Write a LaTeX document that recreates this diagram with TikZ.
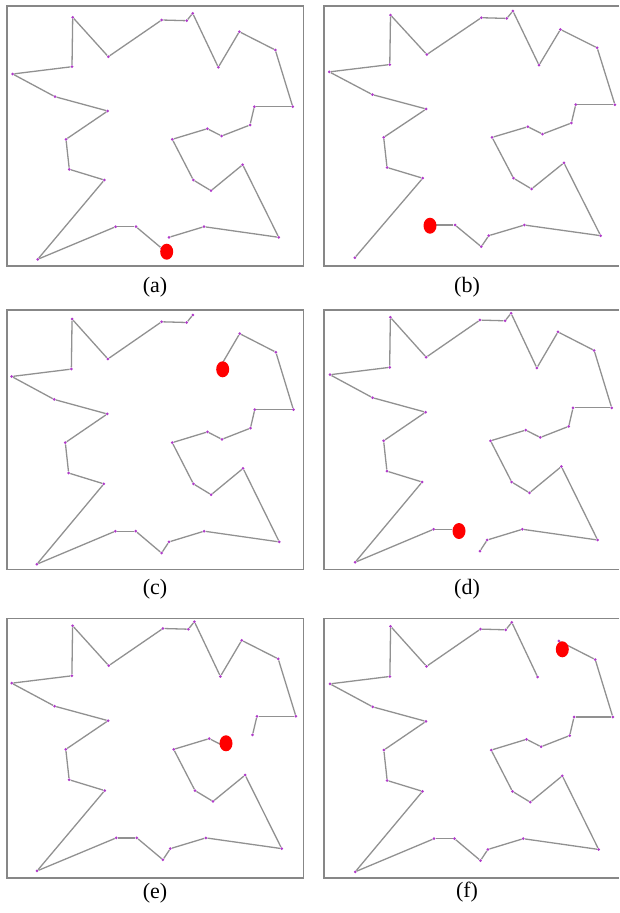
\documentclass[tikz,border=0pt]{standalone}
\usepackage{fontspec}
\setmainfont{Liberation Serif}
\usepackage{tikz}
\usetikzlibrary{shapes.geometric}
\definecolor{tourgray}  {RGB}{145,145,145}
\definecolor{framegray} {RGB}{135,135,135}
\definecolor{cityviolet}{RGB}{175,60,200}
\definecolor{agentred}  {RGB}{255,0,0}
\tikzset{
  city/.style      ={circle, fill=cityviolet, inner sep=0pt, minimum size=3pt},
  agent/.style     ={ellipse, fill=agentred, inner sep=0pt,
                     minimum width=13pt, minimum height=16pt},
  tour/.style      ={draw=tourgray, line width=1.3pt},
  panelframe/.style={draw=framegray, line width=1.6pt},
  panellabel/.style={font=\fontsize{22}{22}\selectfont, inner sep=0pt},
}
% city positions, relative to the leftmost city (x) and the top city (y)
\newcommand{\tourpts}{60.0/4.0, 95.6/43.4, 149.0/6.7, 174.0/7.4, 180.0/0.0,
  205.6/54.0, 226.6/18.4, 262.6/36.7, 280.0/93.4, 241.6/93.4, 237.3/111.7,
  209.0/122.7, 194.6/115.4, 159.6/126.0, 180.6/166.7, 198.3/177.4,
  230.0/151.4, 266.0/224.0, 191.3/213.4, 156.3/224.0, 149.0/235.0,
  123.3/213.4, 103.0/213.4, 25.0/246.0, 91.6/166.7, 56.6/156.0, 53.3/126.0,
  95.0/97.7, 42.3/83.4, 0.0/60.7, 59.3/53.4}
\begin{document}
\begin{tikzpicture}[x=1pt, y=-1pt]
\useasboundingbox (0,0) rectangle (619,913);

% panel frames (right column runs off the page)
\draw[panelframe] (6.7,5.7)   rectangle (303.3,265.7);
\draw[panelframe] (6.7,310.0) rectangle (303.3,569.3);
\draw[panelframe] (6.7,618.3) rectangle (303.3,877.7);
\draw[panelframe] (619,5.7)   -- (324,5.7)   -- (324,265.7) -- (619,265.7);
\draw[panelframe] (619,310.0) -- (324,310.0) -- (324,569.3) -- (619,569.3);
\draw[panelframe] (619,618.3) -- (324,618.3) -- (324,877.7) -- (619,877.7);

% one tour per panel: origin, scale, missing edge, agent position
\foreach \tag/\ox/\oy/\sx/\sy/\gap/\rx/\ry in {
    a/12.7/13.3/1.000/1.000/20/166.7/251.7,
    b/329.3/11.0/1.020/1.003/23/430.0/225.7,
    c/11.7/315.0/1.006/1.013/5/222.7/369.3,
    d/330.0/313.3/1.006/1.012/21/459.0/531.0,
    e/11.7/621.7/1.015/1.013/11/226.0/743.3,
    f/330.0/622.3/1.010/1.014/6/562.3/649.3}{
  \begin{scope}[shift={(\ox,\oy)}, xscale=\sx, yscale=\sy]
    \foreach \px/\py [count=\k] in \tourpts
      \node[city] (\tag-\k) at (\px,\py) {};
  \end{scope}
  \foreach \i in {1,...,31}{
    \pgfmathtruncatemacro\j{mod(\i,31)+1}
    \ifnum\i=\gap\else
      \draw[tour] (\tag-\i) -- (\tag-\j);
    \fi
  }
  \node[agent] (agent-\tag) at (\rx,\ry) {};
}

\node[panellabel] (lab-a) at (155.0,287) {(a)};
\node[panellabel] (lab-b) at (467.0,287) {(b)};
\node[panellabel] (lab-c) at (155.0,589) {(c)};
\node[panellabel] (lab-d) at (467.0,589) {(d)};
\node[panellabel] (lab-e) at (155.0,893) {(e)};
\node[panellabel] (lab-f) at (467.0,892) {(f)};

\end{tikzpicture}
\end{document}
